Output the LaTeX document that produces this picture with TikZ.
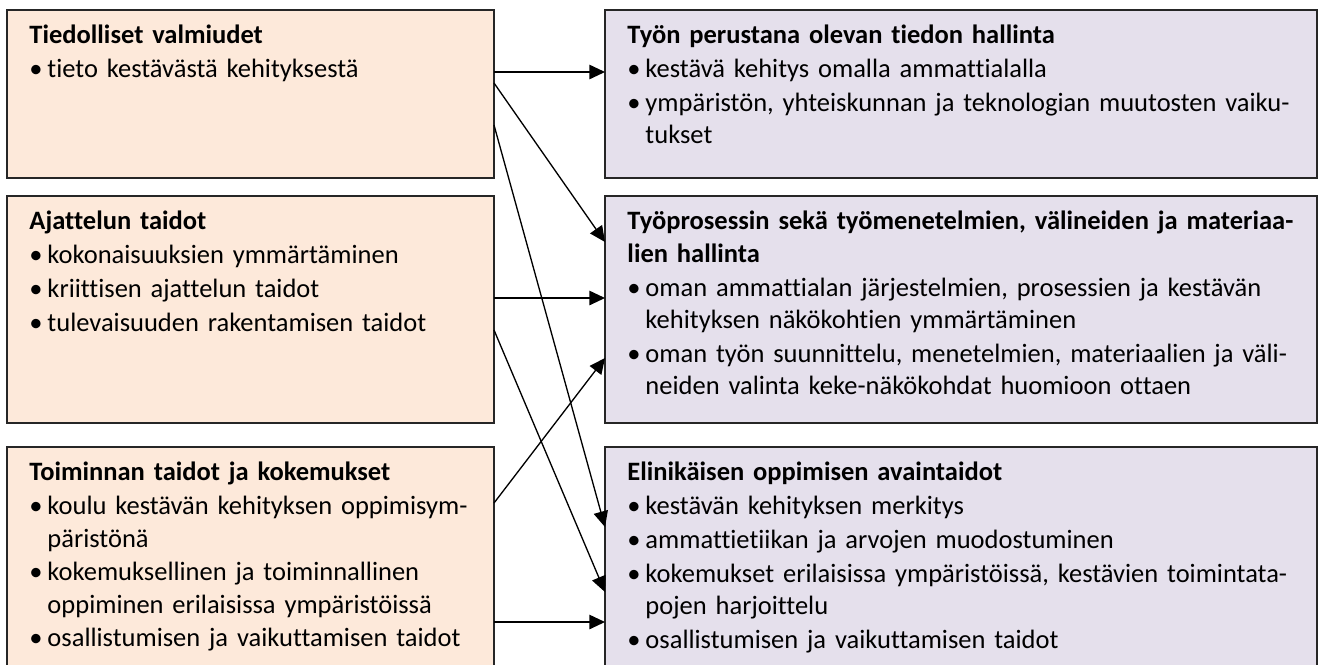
\documentclass[tikz,border=0pt]{standalone}
\usepackage{fontspec}
\setmainfont{Carlito}[Ligatures=NoCommon]
\usetikzlibrary{arrows.meta, calc}
\newlength\yks
\setlength\yks{0.415pt}
\definecolor{persikka}{RGB}{253,233,218}
\definecolor{laventeli}{RGB}{229,224,236}
\tikzstyle{every node}=[font=\fontsize{11pt}{13.4pt}\selectfont]
\tikzstyle{laatikko} = [rectangle, anchor=north west, inner sep=0pt, outer sep=0pt, draw=black!85, line width=0.8pt]
\tikzstyle{lahto} = [laatikko, fill=persikka, minimum width=487\yks]
\tikzstyle{tulos} = [laatikko, fill=laventeli, minimum width=712\yks]
\tikzstyle{teksti} = [anchor=north west, inner sep=0pt, text width=700\yks, align=left]
\tikzstyle{nuoli} = [line width=0.55pt, -{Triangle[length=6.5pt, width=6pt]}]
\newcommand{\otsikko}[1]{\noindent\rule{0pt}{10pt}\textbf{#1}}
\newcommand{\kohta}[1]{\par\vskip1.5\yks\hangindent=18\yks\hangafter=1\noindent\makebox[18\yks][l]{\textbullet}#1\par}

\begin{document}
\begin{tikzpicture}[x=\yks, y=-\yks]
  \useasboundingbox (0,0) rectangle (1319,664);
  % lahtokohdat
  \node (tiedot) [lahto, minimum height=168\yks] at (7,10) {};
  \node (ajattelu) [lahto, minimum height=227\yks] at (7,196) {};
  \node (toiminta) [lahto, minimum height=226\yks] at (7,447) {};
  % osaaminen
  \node (hallinta) [tulos, minimum height=168\yks] at (605,10) {};
  \node (prosessi) [tulos, minimum height=227\yks] at (605,196) {};
  \node (avaintaidot) [tulos, minimum height=226\yks] at (605,447) {};

  \node (tiedot-t) [teksti] at (29,19.4) {\otsikko{Tiedolliset valmiudet}
    \kohta{tieto kestävästä kehityksestä}};
  \node (ajattelu-t) [teksti] at (29,205.4) {\otsikko{Ajattelun taidot}
    \kohta{kokonaisuuksien ymmärtäminen}
    \kohta{kriittisen ajattelun taidot}
    \kohta{tulevaisuuden rakentamisen taidot}};
  \node (toiminta-t) [teksti] at (29,456.4) {\otsikko{Toiminnan taidot ja kokemukset}
    \kohta{koulu kestävän kehityksen oppimisym-\newline päristönä}
    \kohta{kokemuksellinen ja toiminnallinen\newline oppiminen erilaisissa ympäristöissä}
    \kohta{osallistumisen ja vaikuttamisen taidot}};

  \node (hallinta-t) [teksti] at (627,19.4) {\otsikko{Työn perustana olevan tiedon hallinta}
    \kohta{kestävä kehitys omalla ammattialalla}
    \kohta{ympäristön, yhteiskunnan ja teknologian muutosten vaiku-\newline tukset}};
  \node (prosessi-t) [teksti] at (627,205.4) {\otsikko{Työprosessin sekä työmenetelmien, välineiden ja materiaa-}\newline
    \textbf{lien hallinta}
    \kohta{oman ammattialan järjestelmien, prosessien ja kestävän\newline kehityksen näkökohtien ymmärtäminen}
    \kohta{oman työn suunnittelu, menetelmien, materiaalien ja väli-\newline neiden valinta keke-näkökohdat huomioon ottaen}};
  \node (avaintaidot-t) [teksti] at (627,456.4) {\otsikko{Elinikäisen oppimisen avaintaidot}
    \kohta{kestävän kehityksen merkitys}
    \kohta{ammattietiikan ja arvojen muodostuminen}
    \kohta{kokemukset erilaisissa ympäristöissä, kestävien toimintata-\newline pojen harjoittelu}
    \kohta{osallistumisen ja vaikuttamisen taidot}};

  \draw [nuoli] ($(tiedot.north east)+(0,62)$) -- ($(hallinta.north west)+(0,62)$);
  \draw [nuoli] ($(tiedot.north east)+(0,73)$) -- ($(prosessi.north west)+(0,46)$);
  \draw [nuoli] ($(tiedot.north east)+(0,115)$) -- ($(avaintaidot.north west)+(0,80)$);
  \draw [nuoli] ($(ajattelu.north east)+(0,102)$) -- ($(prosessi.north west)+(0,102)$);
  \draw [nuoli] ($(ajattelu.north east)+(0,134)$) -- ($(avaintaidot.north west)+(0,145)$);
  \draw [nuoli] ($(toiminta.north east)+(0,56)$) -- ($(prosessi.north west)+(0,162)$);
  \draw [nuoli] ($(toiminta.north east)+(0,175)$) -- ($(avaintaidot.north west)+(0,175)$);
\end{tikzpicture}
\end{document}
